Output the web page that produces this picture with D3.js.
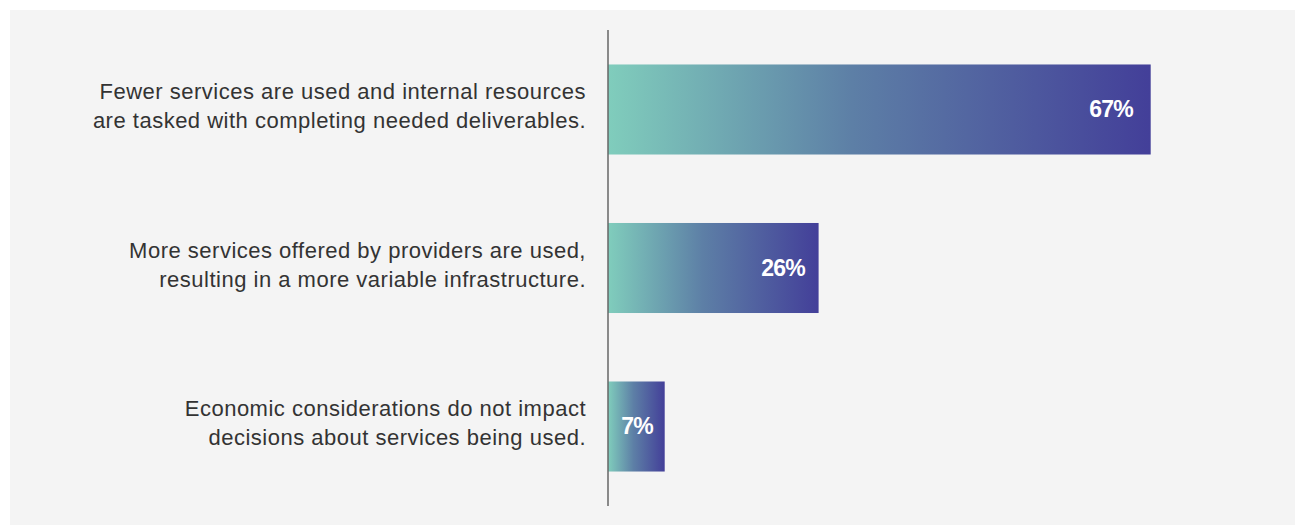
<!DOCTYPE html>
<html>
<head>
<meta charset="utf-8">
<script src="https://cdn.jsdelivr.net/npm/d3@7"></script>
<style>
  body { margin: 0; background: #fff; }
  svg { display: block; }
</style>
</head>
<body>
<div id="chart"></div>
<script>
// datos
const categories = [
  ["Fewer services are used and internal resources", "are tasked with completing needed deliverables."],
  ["More services offered by providers are used,", "resulting in a more variable infrastructure."],
  ["Economic considerations do not impact", "decisions about services being used."]
];
const values = [67, 26, 7];
const valueLabels = ["67%", "26%", "7%"];

const W = 1295, H = 525;
const axisX = 608;

const svg = d3.select("#chart")
  .append("svg")
  .attr("width", W)
  .attr("height", H);

// fondo gris
svg.append("rect")
  .attr("x", 10).attr("y", 10)
  .attr("width", W - 10).attr("height", H - 10)
  .attr("fill", "#f4f4f4");

// gradiente de las barras
const grad = svg.append("defs").append("linearGradient")
  .attr("id", "barGrad")
  .attr("x1", "0%").attr("x2", "100%")
  .attr("y1", "0%").attr("y2", "0%");
grad.append("stop").attr("offset", "0%").attr("stop-color", "#80cdbc");
grad.append("stop").attr("offset", "45%").attr("stop-color", "#5d7fa6");
grad.append("stop").attr("offset", "100%").attr("stop-color", "#433f99");

// escalas
const x = d3.scaleLinear().domain([0, 100]).range([axisX, axisX + 810]);
const y = d3.scaleBand()
  .domain(d3.range(values.length))
  .range([30, 506])
  .paddingInner(0.432)
  .paddingOuter(0.2175);

// barras
svg.selectAll(".bar")
  .data(values)
  .enter().append("rect")
  .attr("class", "bar")
  .attr("x", x(0))
  .attr("y", (d, i) => y(i))
  .attr("width", d => x(d) - x(0))
  .attr("height", y.bandwidth())
  .attr("fill", "url(#barGrad)");

// eje vertical
svg.append("line")
  .attr("x1", axisX).attr("x2", axisX)
  .attr("y1", 30).attr("y2", 506)
  .attr("stroke", "#666")
  .attr("stroke-width", 1.5);

// etiquetas de valor
svg.selectAll(".val")
  .data(values)
  .enter().append("text")
  .attr("class", "val")
  .attr("x", d => x(d) - (11 + d * 0.1))
  .attr("y", (d, i) => y(i) + y.bandwidth() / 2)
  .attr("dy", "0.33em")
  .attr("text-anchor", "end")
  .attr("fill", "#fff")
  .style("font-family", "'Liberation Sans', Arial, sans-serif")
  .style("font-weight", "bold")
  .style("font-size", "23px")
  .style("letter-spacing", "-0.8px")
  .text((d, i) => valueLabels[i]);

// etiquetas de categoria
const cat = svg.selectAll(".cat")
  .data(categories)
  .enter().append("text")
  .attr("class", "cat")
  .attr("text-anchor", "end")
  .attr("fill", "#333")
  .style("font-family", "'Liberation Sans', Arial, sans-serif")
  .style("font-size", "22px")
  .style("letter-spacing", "0.5px");

cat.each(function (lines, i) {
  const cy = y(i) + y.bandwidth() / 2;
  d3.select(this).selectAll("tspan")
    .data(lines)
    .enter().append("tspan")
    .attr("x", 586)
    .attr("y", (l, j) => cy + (j - 0.5) * 29)
    .attr("dy", "0.2em")
    .text(l => l);
});
</script>
</body>
</html>
